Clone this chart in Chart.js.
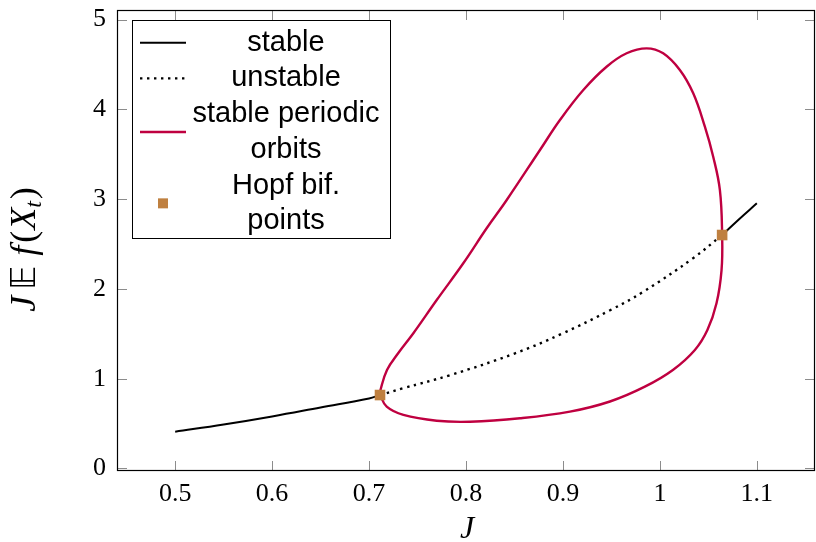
<!DOCTYPE html>
<html lang="en">
<head>
<meta charset="UTF-8">
<title>Hopf bifurcation</title>
<script src="https://cdn.jsdelivr.net/npm/chart.js"></script>
<style>
  html, body { margin: 0; padding: 0; background: #fff; overflow: hidden; }
  #wrap { width: 816px; height: 542px; position: relative; }
  #wrap canvas { display: block; }
</style>
</head>
<body>
<div id="wrap"><canvas id="grafico"></canvas></div>
<script>
// ramo estavel (duas partes)
const stableLowJ = [0.5, 0.55, 0.6, 0.65, 0.7, 0.7113];
const stableLowY = [0.41, 0.49, 0.58, 0.68, 0.78, 0.818];
const stableHighJ = [1.0642, 1.08, 1.1];
const stableHighY = [2.60, 2.76, 2.953];

// ramo instavel
const unstableJ = [0.7113, 0.735, 0.784, 0.85, 0.9, 0.95, 0.983, 1.034, 1.0642];
const unstableY = [0.818, 0.893, 1.041, 1.28, 1.506, 1.77, 1.969, 2.34, 2.60];

// orbitas periodicas estaveis (curva fechada)
const periodicJ = [0.7113, 0.7118, 0.7185, 0.7300, 0.7457, 0.7698, 0.7972, 0.8213, 0.842, 0.8763,
  0.8969, 0.921, 0.945, 0.9657, 0.9863, 1.0034, 1.0206, 1.0344, 1.0464, 1.055, 1.0619, 1.0642,
  1.0636, 1.0584, 1.049, 1.0361, 1.0134, 0.9845, 0.9485, 0.9072, 0.8557, 0.8041, 0.7698,
  0.7354, 0.7182, 0.7113];
const periodicY = [0.818, 0.874, 1.097, 1.283, 1.506, 1.876, 2.285, 2.675, 2.99, 3.547,
  3.881, 4.215, 4.474, 4.624, 4.679, 4.624, 4.438, 4.178, 3.806, 3.472, 3.10, 2.60,
  2.21, 1.84, 1.542, 1.32, 1.097, 0.911, 0.746, 0.633, 0.559, 0.521, 0.532,
  0.596, 0.688, 0.818];

// pontos de bifurcacao de Hopf
const hopfJ = [0.7113, 1.0642];
const hopfY = [0.818, 2.60];

const xTicks = [0.5, 0.6, 0.7, 0.8, 0.9, 1, 1.1];
const yTicks = [0, 1, 2, 3, 4, 5];
const legendLabels = [['stable'], ['unstable'], ['stable periodic', 'orbits'], ['Hopf bif.', 'points']];

const pts = (xs, ys) => xs.map((x, i) => ({ x: x, y: ys[i] }));

const stableData = pts(stableLowJ, stableLowY)
  .concat([{ x: 0.9, y: null }])
  .concat(pts(stableHighJ, stableHighY));

const SERIF = '"Liberation Serif", "DejaVu Serif", serif';
const SANS = '"Liberation Sans", Arial, sans-serif';

const decoracao = {
  id: 'decoracao',
  afterDraw(chart) {
    const ctx = chart.ctx;
    const a = chart.chartArea;
    const xs = chart.scales.x, ys = chart.scales.y;
    ctx.save();

    // ticks para dentro, nos quatro lados
    ctx.strokeStyle = 'rgba(0,0,0,0.45)';
    ctx.lineWidth = 1;
    ctx.beginPath();
    xTicks.forEach(v => {
      const px = Math.round(xs.getPixelForValue(v)) + 0.5;
      ctx.moveTo(px, a.bottom); ctx.lineTo(px, a.bottom - 10);
      ctx.moveTo(px, a.top); ctx.lineTo(px, a.top + 10);
    });
    yTicks.forEach(v => {
      const py = Math.round(ys.getPixelForValue(v)) + 0.5;
      ctx.moveTo(a.left, py); ctx.lineTo(a.left + 10, py);
      ctx.moveTo(a.right, py); ctx.lineTo(a.right - 10, py);
    });
    ctx.stroke();

    // moldura
    ctx.strokeStyle = '#000';
    ctx.lineWidth = 1.2;
    ctx.strokeRect(a.left + 0.5, a.top + 0.5, a.right - a.left - 1, a.bottom - a.top - 1);

    // legenda
    const lx = a.left + 15, ly = a.top + 10, lw = 258, lh = 218;
    ctx.fillStyle = '#fff';
    ctx.fillRect(lx, ly, lw, lh);
    ctx.strokeStyle = '#000';
    ctx.lineWidth = 1;
    ctx.strokeRect(lx + 0.5, ly + 0.5, lw, lh);

    const lineH = 35.7;
    let linha = 0;
    ctx.font = '29px ' + SANS;
    ctx.textAlign = 'center';
    ctx.textBaseline = 'middle';
    legendLabels.forEach((lab, i) => {
      const ds = chart.data.datasets[i];
      const y0 = ly + 22.7 + lineH * linha;
      const ySym = y0 + lineH * (lab.length - 1) / 2;
      lab.forEach((t, k) => {
        ctx.fillStyle = '#000';
        ctx.fillText(t, lx + 154, y0 + lineH * k);
      });
      linha += lab.length;
      if (ds.showLine) {
        ctx.save();
        ctx.strokeStyle = ds.borderColor;
        ctx.lineWidth = ds.borderWidth;
        ctx.setLineDash(ds.borderDash || []);
        ctx.beginPath();
        ctx.moveTo(lx + 8, ySym);
        ctx.lineTo(lx + 54, ySym);
        ctx.stroke();
        ctx.restore();
      } else {
        ctx.fillStyle = ds.backgroundColor;
        ctx.fillRect(lx + 26, ySym - 5, 10, 10);
      }
    });

    // titulo do eixo x
    ctx.fillStyle = '#000';
    ctx.font = 'italic 32px ' + SERIF;
    ctx.textAlign = 'center';
    ctx.textBaseline = 'alphabetic';
    ctx.fillText('J', (a.left + a.right) / 2 + 1, 538);

    // titulo do eixo y: J E f(X_t)
    const partes = [
      { t: 'J', f: 'italic 36px ' + SERIF, gap: 6 },
      { t: '\u{1D53C}', f: '33px "DejaVu Sans"', gap: 10 },
      { t: 'f', f: 'italic 36px ' + SERIF, gap: 3 },
      { t: '(', f: '36px ' + SERIF, gap: 1 },
      { t: 'X', f: 'italic 36px ' + SERIF, gap: 0 },
      { t: 't', f: 'italic 24px ' + SERIF, gap: 2, dy: 6 },
      { t: ')', f: '36px ' + SERIF, gap: 0 }
    ];
    let total = 0;
    partes.forEach(p => { ctx.font = p.f; p.w = ctx.measureText(p.t).width; total += p.w + p.gap; });
    ctx.translate(35, (a.top + a.bottom) / 2 + 9);
    ctx.rotate(-Math.PI / 2);
    ctx.textAlign = 'left';
    let cx = -total / 2;
    partes.forEach(p => {
      ctx.font = p.f;
      ctx.fillText(p.t, cx, p.dy || 0);
      cx += p.w + p.gap;
    });
    ctx.restore();
  }
};

new Chart(document.getElementById('grafico'), {
  type: 'line',
  data: {
    datasets: [
      {
        label: 'stable',
        data: stableData,
        showLine: true,
        borderColor: '#000',
        borderWidth: 2,
        pointRadius: 0,
        tension: 0.4,
        order: 2
      },
      {
        label: 'unstable',
        data: pts(unstableJ, unstableY),
        showLine: true,
        borderColor: '#000',
        borderWidth: 2.4,
        borderDash: [2.4, 4.6],
        pointRadius: 0,
        tension: 0.4,
        order: 3
      },
      {
        label: 'stable periodic orbits',
        data: pts(periodicJ, periodicY),
        showLine: true,
        borderColor: 'rgb(191,0,64)',
        borderWidth: 2.4,
        pointRadius: 0,
        tension: 0.4,
        order: 1
      },
      {
        label: 'Hopf bif. points',
        data: pts(hopfJ, hopfY),
        showLine: false,
        backgroundColor: 'rgb(191,128,64)',
        borderColor: 'rgb(191,128,64)',
        borderWidth: 0,
        pointStyle: 'rect',
        pointRadius: 7.5,
        order: 0
      }
    ]
  },
  options: {
    responsive: true,
    maintainAspectRatio: false,
    animation: false,
    layout: { autoPadding: false, padding: { top: 10, right: 1, left: 0, bottom: 0 } },
    plugins: {
      legend: { display: false },
      tooltip: { enabled: false }
    },
    scales: {
      x: {
        type: 'linear',
        min: 0.44,
        max: 1.16,
        grid: { display: false, drawTicks: false },
        border: { display: false },
        afterBuildTicks: s => { s.ticks = xTicks.map(v => ({ value: v })); },
        afterFit: s => { s.height = 71; s.paddingLeft = 0; s.paddingRight = 0; },
        ticks: {
          color: '#000',
          padding: 8,
          maxRotation: 0,
          font: { family: SERIF, size: 26 },
          callback: v => String(v)
        }
      },
      y: {
        type: 'linear',
        min: -0.028,
        max: 5.106,
        grid: { display: false, drawTicks: false },
        border: { display: false },
        afterBuildTicks: s => { s.ticks = yTicks.map(v => ({ value: v })); },
        afterFit: s => { s.width = 117; s.paddingTop = 0; s.paddingBottom = 0; },
        ticks: {
          color: '#000',
          padding: 11,
          font: { family: SERIF, size: 26 },
          callback: v => String(v)
        }
      }
    }
  },
  plugins: [decoracao]
});
</script>
</body>
</html>
